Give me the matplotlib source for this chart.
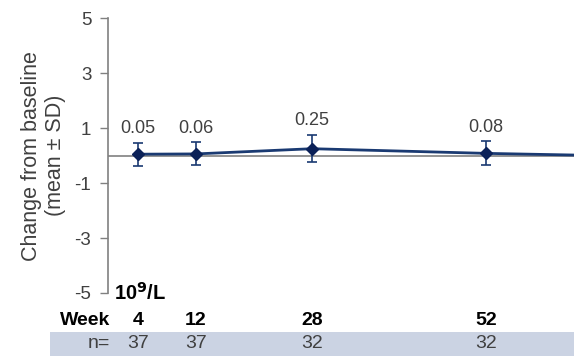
import numpy as np
import matplotlib.pyplot as plt
from matplotlib import transforms

plt.rcParams['font.family'] = ['Liberation Sans', 'DejaVu Sans']

# change from baseline, 10^9/L
weeks = [4, 12, 28, 52]
mean_change = [0.05, 0.06, 0.25, 0.08]
sd_change = [0.42, 0.42, 0.50, 0.44]
n_patients = [37, 37, 32, 32]
# next visit, outside the plotted range
tail_week = [52, 76]
tail_change = [0.08, -0.04]

yticks = [5, 3, 1, -1, -3, -5]

navy = '#1a3a72'
grey = '#808080'
txt = '#404040'

fig = plt.figure(figsize=(5.74, 3.56), dpi=100)
ax = fig.add_axes([0.188, 0.177, 0.812, 0.772])

ax.axhline(0, color=grey, lw=1.2, zorder=1)
ax.plot(tail_week, tail_change, color=navy, lw=2, zorder=2)
ax.errorbar(weeks, mean_change, yerr=sd_change, color=navy, lw=2,
            marker='D', ms=6, mfc='#0b2158', mec='#0b2158',
            ecolor=navy, elinewidth=1.2, capsize=3.5, capthick=1.2, zorder=3)

for w, m, s in zip(weeks, mean_change, sd_change):
    ax.annotate(f'{m:.2f}', (w, m + s), xytext=(0, 4), textcoords='offset points',
                ha='center', va='bottom', fontsize=13, color=txt)

ax.set_xlim(-0.14, 64.1)
ax.set_ylim(-5, 5)
ax.set_yticks(yticks)
ax.set_yticklabels([str(t) for t in yticks], fontsize=13.5, color=txt)
ax.tick_params(axis='y', direction='out', length=6, width=1, color=grey, pad=6)
ax.set_xticks([])
for side in ['top', 'right', 'bottom']:
    ax.spines[side].set_visible(False)
ax.spines['left'].set_color(grey)
ax.spines['left'].set_linewidth(1.2)

ax.set_ylabel('Change from baseline\n(mean ± SD)', fontsize=15.5, color=txt,
              linespacing=1.2, labelpad=6)

ax.text(0.012, -5, r'10$^{\mathbf{9}}$/L', fontsize=14.5, fontweight='bold',
        ha='left', va='center', transform=transforms.blended_transform_factory(ax.transAxes, ax.transData))

# table of weeks and n under the plot
trans = transforms.blended_transform_factory(ax.transData, fig.transFigure)
fig.patches.append(plt.Rectangle((0.087, 0.0), 0.913, 0.068, transform=fig.transFigure,
                                 facecolor='#cbd3e3', edgecolor='none', zorder=-1))
fig.text(0.192, 0.101, 'Week', fontsize=14, fontweight='bold', ha='right', va='center')
fig.text(0.192, 0.036, 'n=', fontsize=14, color=txt, ha='right', va='center')
for w, n in zip(weeks, n_patients):
    ax.text(w, 0.101, str(w), transform=trans, fontsize=14, fontweight='bold',
            ha='center', va='center', clip_on=False)
    ax.text(w, 0.036, str(n), transform=trans, fontsize=14, color=txt,
            ha='center', va='center', clip_on=False)

fig.savefig('out.png', dpi=100)
